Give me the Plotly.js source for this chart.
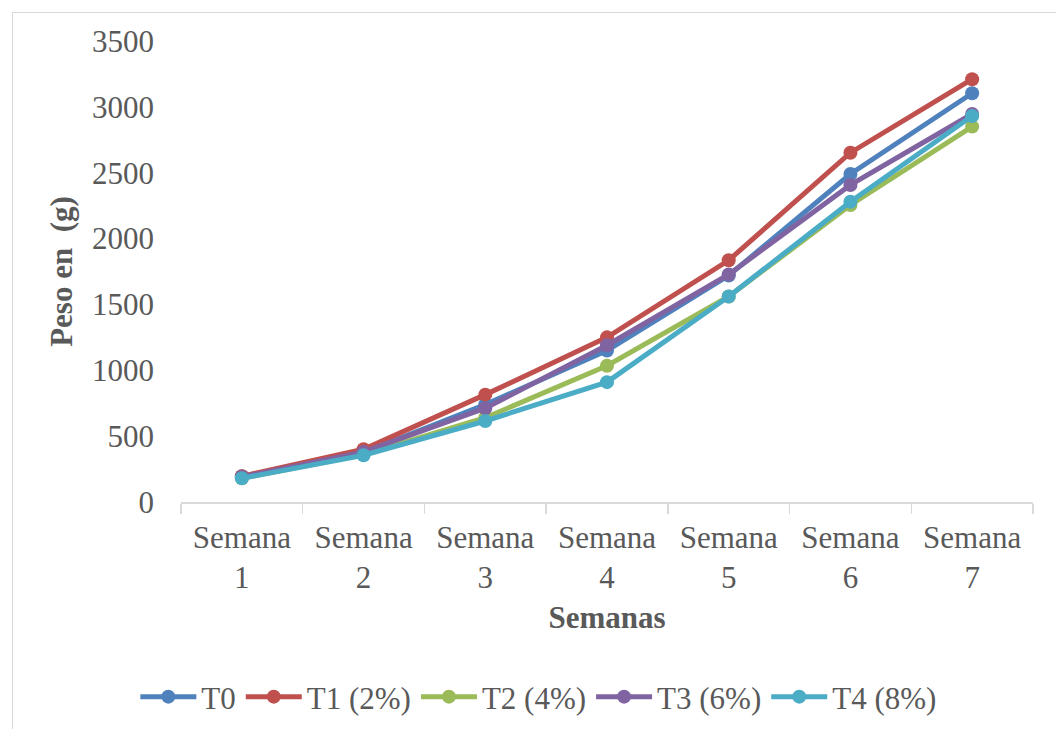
<!DOCTYPE html>
<html>
<head>
<meta charset="utf-8">
<script src="https://cdn.plot.ly/plotly-3.0.1.min.js"></script>
<style>
html,body{margin:0;padding:0;background:#fff;}
#frame{position:absolute;left:12px;top:12px;width:1060px;height:730px;border:1px solid #d9d9d9;box-sizing:border-box;}
#chart{position:absolute;left:0;top:0;width:1056px;height:729px;}
</style>
</head>
<body>
<div id="frame"></div>
<div id="chart"></div>
<script>
var categories = ["Semana<br>1","Semana<br>2","Semana<br>3","Semana<br>4","Semana<br>5","Semana<br>6","Semana<br>7"];
var seriesNames = ["T0","T1 (2%)","T2 (4%)","T3 (6%)","T4 (8%)"];
var T0 = [195, 375, 740, 1150, 1720, 2490, 3103];
var T1 = [195, 400, 815, 1250, 1835, 2652, 3210];
var T2 = [180, 360, 640, 1035, 1560, 2255, 2850];
var T3 = [190, 380, 712, 1190, 1728, 2407, 2946];
var T4 = [180, 355, 615, 910, 1560, 2280, 2931];
var colors = ["#4F81BD","#C0504D","#9BBB59","#8064A2","#4BACC6"];
var allSeries = [T0, T1, T2, T3, T4];

var traces = allSeries.map(function(vals, i){
  return {
    x: categories, y: vals, name: seriesNames[i],
    type: "scatter", mode: "lines+markers",
    line: {color: colors[i], width: 5},
    marker: {color: colors[i], size: 14}
  };
});

var fam = "'Liberation Serif', 'Times New Roman', serif";
var font = {family: fam, color: "#595959", size: 31};

var layout = {
  width: 1056, height: 729,
  margin: {l: 181, r: 23, t: 41, b: 227, autoexpand: false},
  paper_bgcolor: "rgba(0,0,0,0)",
  plot_bgcolor: "rgba(0,0,0,0)",
  font: font,
  showlegend: true,
  legend: {orientation: "h", x: 0.42, xanchor: "center", y: -0.423, yanchor: "middle",
           itemwidth: 56,
           font: {family: fam, color: "#595959", size: 31}, tracegroupgap: 0},
  xaxis: {
    type: "category", range: [-0.5, 6.5], automargin: false,
    showline: true, linecolor: "#d9d9d9", linewidth: 1.5,
    ticks: "outside", tickson: "boundaries", ticklen: 10, tickcolor: "#d9d9d9", tickwidth: 1.5,
    ticklabelstandoff: 7,
    showgrid: false, zeroline: false, tickfont: font,
    title: {text: "<b>Semanas</b>", font: {family: fam, color: "#595959", size: 31}, standoff: 12}
  },
  yaxis: {
    range: [0, 3500], dtick: 500, tick0: 0, automargin: false,
    showline: false, showgrid: false, zeroline: false,
    ticks: "", tickfont: font, ticklabelstandoff: 26,
    title: {text: "<b>Peso en  (g)</b>", font: {family: fam, color: "#595959", size: 31}, standoff: 10}
  }
};

Plotly.newPlot("chart", traces, layout, {displayModeBar: false, staticPlot: true});
</script>
</body>
</html>
